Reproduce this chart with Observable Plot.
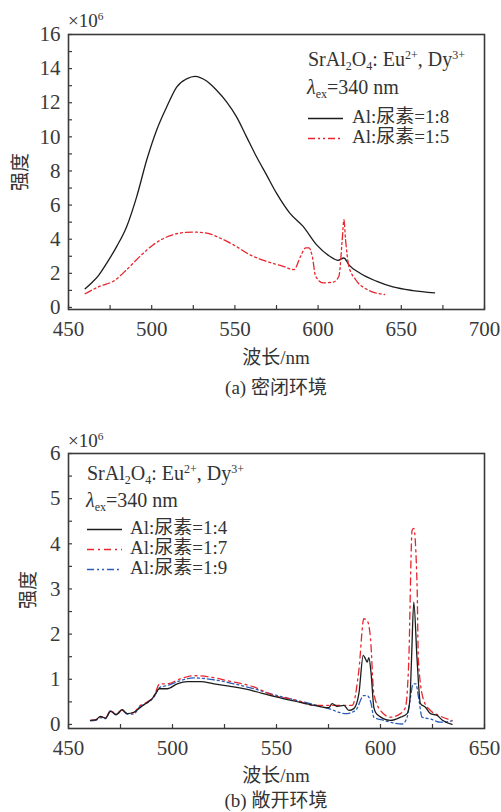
<!DOCTYPE html>
<html>
<head>
<meta charset="utf-8">
<script src="https://cdn.jsdelivr.net/npm/d3@7"></script>
<script src="https://cdn.jsdelivr.net/npm/@observablehq/plot@0.6"></script>
<style>
  html, body { margin: 0; padding: 0; background: #fff; }
  #wrap { position: relative; width: 501px; height: 812px; overflow: hidden; background: #fff;
          font-family: "Liberation Serif", "Noto Sans CJK SC", serif; color: #333; }
  #wrap svg, #wrap svg text { font-family: "Liberation Serif", "Noto Sans CJK SC", serif !important; }
  .abs { position: absolute; white-space: nowrap; line-height: 1; }
  .c { transform: translate(-50%, -50%); }
  .l { transform: translate(0, -50%); }
  .rot { transform: translate(-50%, -50%) rotate(-90deg); }
  sub { font-size: 0.6em; vertical-align: -0.3em; line-height: 0; }
  sup { font-size: 0.6em; vertical-align: 0.6em; line-height: 0; }
  svg.sw { vertical-align: middle; }
</style>
</head>
<body>
<div id="wrap"></div>
<script>
// ---------- data ----------
// Panel (a) 密闭环境
const xTicksA = [450, 500, 550, 600, 650, 700];
const xMinorA = [475, 525, 575, 625, 675];
const yTicksA = [0, 2, 4, 6, 8, 10, 12, 14, 16];
const yMinorA = [1, 3, 5, 7, 9, 11, 13, 15];

const wlA18 = [460, 464, 468, 473, 479, 485, 491, 497, 503, 509, 515, 521, 526, 533, 539, 545, 551, 557, 563, 569, 575, 583, 591, 599, 607, 612, 615.5, 618.5, 625, 635, 645, 657, 670];
const intA18 = [1.1, 1.45, 1.87, 2.6, 3.58, 4.75, 6.5, 8.64, 10.4, 11.75, 12.92, 13.4, 13.55, 13.27, 12.73, 12.05, 11.17, 10.0, 8.83, 7.77, 6.7, 5.53, 4.75, 3.68, 3.0, 2.76, 2.9, 2.5, 2.02, 1.54, 1.2, 0.99, 0.86];

const wlA15 = [460, 469, 477, 485, 493, 501, 509, 517, 525, 533, 541, 549, 559, 569, 579, 585.5, 589.5, 592.5, 594.5, 596.5, 598.5, 603, 609, 612.5, 614.5, 615.5, 616.5, 618.5, 622.5, 629.5, 640];
const intA15 = [0.8, 1.25, 1.54, 2.22, 3.0, 3.68, 4.13, 4.36, 4.42, 4.36, 4.07, 3.68, 3.09, 2.7, 2.41, 2.22, 3.0, 3.49, 3.49, 3.0, 1.83, 1.44, 1.48, 1.83, 3.97, 5.14, 3.97, 2.41, 1.64, 1.05, 0.76];

// Panel (b) 敞开环境
const xTicksB = [450, 500, 550, 600, 650];
const xMinorB = [475, 525, 575, 625];
const yTicksB = [0, 1, 2, 3, 4, 5, 6];
const yMinorB = [0.5, 1.5, 2.5, 3.5, 4.5, 5.5];

const wlB14 = [460.6, 463, 465.4, 467.8, 470.2, 472.9, 475.8, 478.2, 481.4, 483.8, 487, 490.2, 491.8, 493.6, 497.4, 502.3, 507.1, 513.5, 519.9, 529.5, 539.1, 548.7, 558.3, 568, 575.1, 576.8, 579.2, 582.4, 584.8, 587.2, 589.6, 591.7, 592.8, 593.6, 594.4, 595.5, 596.8, 598.4, 604.8, 609.6, 612.8, 614.1, 614.9, 616, 617.6, 619.2, 621.6, 624, 627.2, 629.6, 634.4];
const intB14 = [0.09, 0.1, 0.18, 0.14, 0.29, 0.22, 0.33, 0.24, 0.27, 0.35, 0.46, 0.57, 0.68, 0.79, 0.79, 0.9, 0.95, 0.95, 0.9, 0.83, 0.74, 0.62, 0.52, 0.42, 0.37, 0.46, 0.4, 0.42, 0.31, 0.35, 0.68, 1.53, 1.45, 1.38, 1.48, 1.12, 0.38, 0.22, 0.09, 0.16, 0.24, 0.53, 1.42, 2.71, 1.42, 0.46, 0.38, 0.24, 0.2, 0.1, 0.0];

const wlB17 = [460.6, 463, 465.4, 467.8, 470.2, 472.9, 475.8, 478.2, 481.4, 484, 488, 491, 493.9, 497.4, 503.8, 510.2, 516.7, 526.3, 539.1, 548.7, 558.3, 568, 577.6, 582.4, 586.4, 589.6, 592, 593.6, 595.2, 596.8, 600, 604.8, 609.6, 612, 613.6, 615.2, 616, 617.6, 618.2, 620.8, 624, 628, 634.4];
const intB17 = [0.09, 0.1, 0.17, 0.14, 0.31, 0.22, 0.32, 0.24, 0.26, 0.4, 0.5, 0.62, 0.9, 0.9, 1.01, 1.08, 1.06, 0.97, 0.83, 0.64, 0.55, 0.42, 0.42, 0.42, 0.42, 1.2, 2.34, 2.3, 1.9, 0.68, 0.31, 0.16, 0.24, 0.38, 1.42, 4.3, 4.34, 3.04, 1.42, 0.53, 0.31, 0.2, 0.09];

const wlB19 = [460.6, 463, 465.4, 467.8, 470.2, 472.9, 475.8, 478.2, 481.4, 484, 488, 491, 493.9, 497.4, 503.8, 510.2, 519.9, 529.5, 539.1, 548.7, 558.3, 568, 575.1, 583.2, 588, 592, 593.6, 595.5, 596.8, 601.6, 606.4, 610.4, 612.8, 614.4, 615.7, 617, 618.3, 620, 624, 628.8, 634.4];
const intB19 = [0.08, 0.09, 0.15, 0.13, 0.3, 0.21, 0.31, 0.23, 0.23, 0.38, 0.48, 0.6, 0.82, 0.86, 0.97, 1.03, 0.99, 0.9, 0.79, 0.66, 0.55, 0.44, 0.35, 0.24, 0.31, 0.64, 0.64, 0.46, 0.16, 0.09, 0.03, 0.01, 0.16, 0.6, 0.9, 0.9, 0.6, 0.16, 0.12, 0.05, 0.08];

// ---------- styles ----------
const INK = "#3a3a3a";
const RED = "#e8252d";
const BLUE = "#2a5cbc";
const BLACK = "#1c1c1c";
const DASH_DOT = "7,4,2,4";
const DASH_DOT_DOT = "7,3,2,3,2,3";
const FONT = '"Liberation Serif", "Noto Sans CJK SC", serif';

const W = 501, ML = 68, MR = 17, MT = 34, MB = 61, H = 370;
const PW = W - ML - MR, PH = H - MT - MB;

function rows(xs, ys) { return xs.map((x, i) => ({x, y: ys[i]})); }

function panel({xDomain, yDomain, xTicks, xMinor, yTicks, yMinor, series}) {
  return Plot.plot({
    width: W, height: H,
    marginLeft: ML, marginRight: MR, marginTop: MT, marginBottom: MB,
    style: {fontFamily: FONT, fontSize: "20px", color: INK, background: "transparent", overflow: "visible"},
    x: {domain: xDomain},
    y: {domain: yDomain},
    marks: [
      Plot.axisX({ticks: xTicks, tickFormat: d3.format("d"), tickSize: 0, tickPadding: 12, label: null, fontSize: 21, fill: INK}),
      Plot.axisY({ticks: yTicks, tickFormat: d3.format("d"), tickSize: 0, tickPadding: 8, label: null, fontSize: 21, fill: INK}),
      Plot.tickX(xTicks.concat(xMinor), {x: d => d, insetTop: PH - 4, stroke: INK, strokeWidth: 1.2}),
      Plot.tickY(yTicks.concat(yMinor), {y: d => d, insetRight: PW - 4, stroke: INK, strokeWidth: 1.2}),
      ...series.map(s => Plot.line(rows(s.x, s.y), {x: "x", y: "y", stroke: s.color, strokeWidth: 1.3, strokeDasharray: s.dash, curve: "monotone-x"})),
      Plot.frame({stroke: INK, strokeWidth: 1.6})
    ]
  });
}

const wrap = document.getElementById("wrap");

function place(html, x, y, cls, size) {
  const d = document.createElement("div");
  d.className = "abs " + cls;
  d.style.left = x + "px";
  d.style.top = y + "px";
  d.style.fontSize = (size || 19) + "px";
  d.innerHTML = html;
  wrap.appendChild(d);
  return d;
}

function swatch(color, dash) {
  return `<svg class="sw" width="35" height="6"><line x1="0" y1="3" x2="35" y2="3" stroke="${color}" stroke-width="1.5" ${dash ? `stroke-dasharray="${dash}"` : ""}/></svg>`;
}

function addSvg(svg, top) {
  const holder = document.createElement("div");
  holder.style.position = "absolute";
  holder.style.left = "0px";
  holder.style.top = top + "px";
  holder.appendChild(svg);
  wrap.appendChild(holder);
}

// ---------- panel (a) ----------
addSvg(panel({
  xDomain: [450, 700], yDomain: [-0.12, 16],
  xTicks: xTicksA, xMinor: xMinorA, yTicks: yTicksA, yMinor: yMinorA,
  series: [
    {x: wlA18, y: intA18, color: BLACK, dash: null},
    {x: wlA15, y: intA15, color: RED, dash: DASH_DOT_DOT}
  ]
}), 0);

place("×10<sup>6</sup>", 68, 20, "l", 19);
place("SrAl<sub>2</sub>O<sub>4</sub>: Eu<sup>2+</sup>, Dy<sup>3+</sup>", 308, 59, "l", 20);
place("<i>λ</i><sub>ex</sub>=340 nm", 307, 87, "l", 20);
place(swatch(BLACK, null), 308, 116, "l", 19);
place("Al:尿素=1:8", 352, 116, "l", 19);
place(swatch(RED, DASH_DOT_DOT), 308, 136, "l", 19);
place("Al:尿素=1:5", 352, 136, "l", 19);
place("强度", 20, 172, "rot", 19);
place("波长/nm", 276, 357, "c", 19);
place("(a) 密闭环境", 276, 387, "c", 19);

// ---------- panel (b) ----------
addSvg(panel({
  xDomain: [450, 650], yDomain: [-0.09, 6],
  xTicks: xTicksB, xMinor: xMinorB, yTicks: yTicksB, yMinor: yMinorB,
  series: [
    {x: wlB19, y: intB19, color: BLUE, dash: DASH_DOT_DOT},
    {x: wlB17, y: intB17, color: RED, dash: DASH_DOT},
    {x: wlB14, y: intB14, color: BLACK, dash: null}
  ]
}), 419);

place("×10<sup>6</sup>", 68, 440, "l", 19);
place("SrAl<sub>2</sub>O<sub>4</sub>: Eu<sup>2+</sup>, Dy<sup>3+</sup>", 87, 473, "l", 20);
place("<i>λ</i><sub>ex</sub>=340 nm", 86, 500, "l", 20);
place(swatch(BLACK, null), 87, 527, "l", 19);
place("Al:尿素=1:4", 130, 527, "l", 19);
place(swatch(RED, DASH_DOT), 87, 547, "l", 19);
place("Al:尿素=1:7", 130, 547, "l", 19);
place(swatch(BLUE, DASH_DOT_DOT), 87, 567, "l", 19);
place("Al:尿素=1:9", 130, 567, "l", 19);
place("强度", 28, 590, "rot", 19);
place("波长/nm", 276, 775, "c", 19);
place("(b) 敞开环境", 276, 800, "c", 19);
</script>
</body>
</html>
